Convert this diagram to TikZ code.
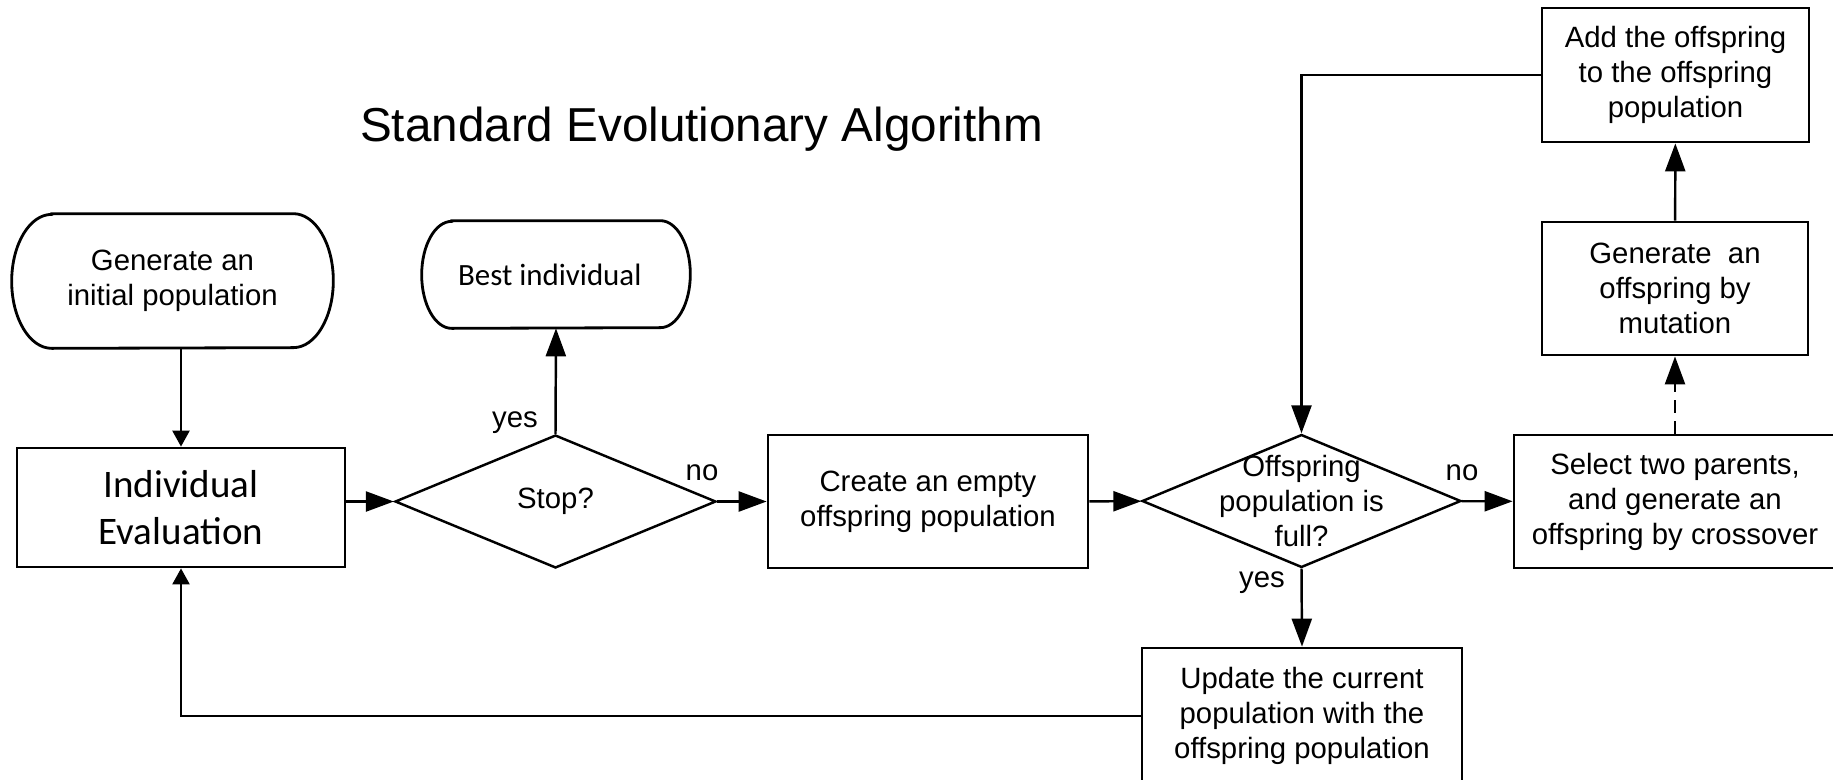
\documentclass[tikz,border=0pt]{standalone}
\usepackage{fontspec}
\setmainfont{Liberation Sans}
\newfontfamily\calfont{Carlito}
\usetikzlibrary{arrows.meta,shapes.geometric}
\def\flowfont{\fontsize{16.7}{19.9}\selectfont}
\def\termoutline(#1)(#2:#3){\draw[line width=1.6pt] ([xshift=#2]#1.north west) -- ([xshift=-#2]#1.north east) arc[start angle=90, end angle=-90, x radius=#2, y radius=#3] -- ([xshift=#2]#1.south west) arc[start angle=270, end angle=90, x radius=#2, y radius=#3] -- cycle;}
\tikzset{
	box/.style={draw, rectangle, line width=1.6pt, align=center, inner sep=0pt, font=\flowfont},
	term/.style={rectangle, align=center, inner sep=0pt, font=\flowfont},
	decision/.style={draw, diamond, line width=1.4pt, inner sep=0pt, font=\flowfont},
	lbl/.style={anchor=base, font=\flowfont},
	arr/.style={line width=1.4pt, -{Triangle[length=0.56cm, width=0.4cm]}},
	arrsmall/.style={line width=1.4pt, -{Triangle[length=0.32cm, width=0.34cm]}}
}

\begin{document}
\begin{tikzpicture}[x=0.02cm, y=-0.02cm]
			%%%%% START %%%%%
			
			\clip (0, 0) rectangle (1833, 779);
			
			\node[anchor=base west, font=\fontsize{27.1}{31}\selectfont] (title) at (354, 141) {Standard Evolutionary Algorithm};
			
			\node[term, minimum width=6.42cm, minimum height=2.68cm] (start) at (172.5, 281) {Generate an\\initial population};
			\termoutline(start)(0.8cm:1.34cm)
			\node[term, minimum width=5.36cm, minimum height=2.14cm, font=\calfont\fontsize{17.6}{21}\selectfont] (best) at (556, 274.5) {Best individual\hspace*{0.25cm}};
			\termoutline(best)(0.6cm:1.07cm)
			\node[box, minimum width=6.56cm, minimum height=2.38cm, font=\calfont\fontsize{22.2}{27}\selectfont] (ie) at (181, 507.5) {Individual\\Evaluation};
			
			\node[decision, minimum width=6.42cm, minimum height=2.66cm] (stop) at (555.5, 501.5) {Stop?};
			\node[box, minimum width=6.4cm, minimum height=2.66cm] (create) at (928, 501.5) {Create an empty\\offspring population};
			\node[decision, minimum width=6.38cm, minimum height=2.66cm] (full) at (1301.5, 501) {};
			\node[align=center, inner sep=0pt, font=\flowfont] (fulltext) at (full) {Offspring\\population is\\full?};
			
			\node[box, minimum width=6.44cm, minimum height=2.66cm] (select) at (1675, 501.5) {Select two parents,\\and generate an\\offspring by crossover};
			\node[box, minimum width=5.32cm, minimum height=2.66cm] (mutate) at (1675, 288.5) {Generate\ \ an\\offspring by\\mutation};
			\node[box, minimum width=5.34cm, minimum height=2.68cm] (add) at (1675.5, 75) {Add the offspring\\to the offspring\\population};
			\node[box, minimum width=6.4cm, minimum height=2.72cm] (update) at (1302, 716) {Update the current\\population with the\\offspring population};
			
			\node[lbl] (yesstop) at (515, 427) {yes};
			\node[lbl] (nostop) at (702, 480) {no};
			\node[lbl] (nofull) at (1462, 480) {no};
			\node[lbl] (yesfull) at (1262, 587) {yes};
			
			\draw[arrsmall] (ie.north |- start.south) -- (ie.north);
			\draw[arr] (ie.east |- stop.west) -- (stop.west);
			\draw[arr] (stop.north) -- (best.south);
			\draw[arr] (stop) -- (create);
			\draw[arr] (create) -- (full);
			\draw[arr] (full) -- (select);
			\draw[arr, dash pattern=on 0.26cm off 0.16cm] (select) -- (mutate);
			\draw[arr] (mutate) -- (add);
			\draw[arr] (add.west) -| (full.north);
			\draw[arr] (full.south) -- (update.north);
			\draw[arrsmall] (update.west) -| (ie.south);
			
			%%%%% END %%%%%
\end{tikzpicture}
\end{document}
